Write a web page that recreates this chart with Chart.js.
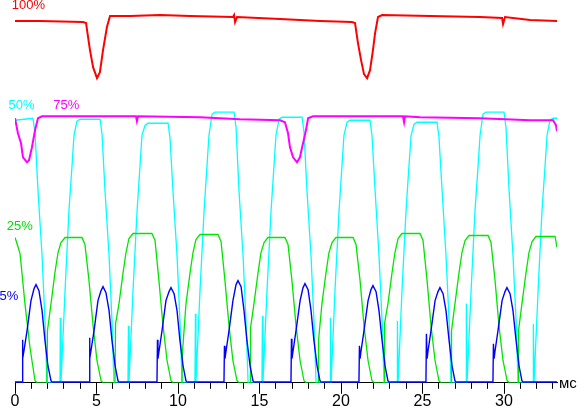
<!DOCTYPE html>
<html>
<head>
<meta charset="utf-8">
<title>Осциллограммы яркости</title>
<script src="https://cdn.jsdelivr.net/npm/chart.js@4.4.1/dist/chart.umd.min.js"></script>
<style>
  html, body { margin: 0; padding: 0; background: #fff; }
  #wrap { position: relative; width: 580px; height: 408px; }
</style>
</head>
<body>
<div id="wrap"><canvas id="chart"></canvas></div>
<script>
// time in ms, level in arbitrary brightness units (0 = black)
const redTime = [0, 1.53, 4.17, 4.36, 4.42, 4.60, 4.79, 5.03, 5.21, 5.40, 5.64, 5.83, 7.06, 8.90, 10.74, 13.37, 13.44, 13.50, 13.62, 16.26,
  18.71, 20.67, 20.86, 21.04, 21.23, 21.41, 21.60, 21.78, 21.96, 22.09, 22.27, 22.52, 25.46, 28.53, 29.88, 29.94, 30.06, 31.60, 33.25];
const redLevel = [361, 361, 360, 359, 352, 332, 315, 304, 310, 332, 355, 366, 366, 367, 366, 365, 367, 360, 365, 363,
  361, 360, 359, 339, 322, 308, 304, 312, 332, 349, 365, 367, 366, 365, 364, 358, 365, 362, 361];

const magentaTime = [0, 0.18, 0.37, 0.49, 0.74, 0.86, 1.04, 1.23, 1.41, 1.66, 7.42, 7.48, 7.55, 11.35, 13.80, 16.26, 16.56, 16.75,
  16.87, 17.06, 17.30, 17.48, 17.67, 17.85, 17.98, 18.28, 22.39, 23.80, 23.87, 23.93, 24.85, 28.53, 31.60, 33.01, 33.19, 33.25];
const magentaLevel = [264, 249, 239, 225, 220, 222, 235, 252, 264, 266, 266, 261, 266, 265, 263, 262, 260, 249,
  235, 225, 220, 225, 239, 252, 264, 266, 266, 266, 260, 266, 265, 264, 262, 262, 257, 251];

const cyanTime = [
  0, 1.10, 1.23, 1.41, 1.66, 1.84, 1.96,
  2.76, 2.78, 2.82, 3.07, 3.31, 3.50, 3.62, 3.80, 3.99, 5.22, 5.34, 5.52, 5.77, 5.95, 6.07,
  6.93, 6.96, 6.99, 7.24, 7.49, 7.67, 7.79, 7.98, 8.16, 9.39, 9.51, 9.69, 9.94, 10.12, 10.25,
  11.04, 11.07, 11.10, 11.35, 11.60, 11.78, 11.90, 12.09, 12.27, 13.44, 13.56, 13.74, 13.99, 14.17, 14.30,
  15.15, 15.18, 15.21, 15.46, 15.71, 15.89, 16.01, 16.20, 16.38, 17.61, 17.73, 17.91, 18.16, 18.34, 18.47,
  19.33, 19.35, 19.39, 19.63, 19.88, 20.06, 20.18, 20.37, 20.55, 21.78, 21.90, 22.09, 22.33, 22.52, 22.64,
  23.44, 23.46, 23.50, 23.74, 23.99, 24.17, 24.30, 24.48, 24.66, 25.89, 26.01, 26.20, 26.44, 26.63, 26.75,
  27.67, 27.69, 27.73, 27.98, 28.22, 28.41, 28.53, 28.71, 28.90, 30.00, 30.12, 30.31, 30.55, 30.74, 30.86,
  31.78, 31.80, 31.84, 32.09, 32.33, 32.52, 32.64, 32.82, 33.01, 33.25];
const cyanLevel = [
  262, 264, 249, 192, 127, 62, 0,
  0, 65, 0, 92, 172, 217, 247, 261, 263, 263, 248, 192, 127, 62, 0,
  0, 57, 0, 92, 172, 217, 247, 257, 259, 259, 244, 192, 127, 62, 0,
  0, 69, 0, 92, 172, 217, 247, 268, 270, 270, 255, 192, 127, 62, 0,
  0, 67, 0, 92, 172, 217, 247, 263, 265, 265, 250, 192, 127, 62, 0,
  0, 65, 0, 92, 172, 217, 247, 260, 262, 262, 247, 192, 127, 62, 0,
  0, 62, 0, 92, 172, 217, 247, 258, 260, 260, 245, 192, 127, 62, 0,
  0, 79, 0, 92, 172, 217, 247, 268, 270, 270, 255, 192, 127, 62, 0,
  0, 59, 0, 92, 172, 217, 247, 262, 264, 264];

const greenTime = [
  0, 0.12, 0.31, 0.61, 0.92, 1.23, 1.35,
  1.96, 1.99, 2.21, 2.45, 2.64, 2.82, 3.07, 4.11, 4.29, 4.54, 4.79, 5.03, 5.28, 5.40,
  6.13, 6.17, 6.38, 6.63, 6.81, 6.99, 7.24, 8.40, 8.59, 8.83, 9.08, 9.33, 9.57, 9.69,
  10.24, 10.28, 10.49, 10.74, 10.92, 11.10, 11.35, 12.45, 12.64, 12.88, 13.13, 13.37, 13.62, 13.74,
  14.42, 14.45, 14.66, 14.91, 15.09, 15.28, 15.52, 16.56, 16.75, 16.99, 17.24, 17.49, 17.73, 17.85,
  18.59, 18.62, 18.83, 19.08, 19.26, 19.45, 19.69, 20.74, 20.92, 21.17, 21.41, 21.66, 21.90, 22.02,
  22.64, 22.67, 22.88, 23.13, 23.31, 23.50, 23.74, 24.85, 25.03, 25.28, 25.52, 25.77, 26.01, 26.14,
  26.75, 26.78, 26.99, 27.24, 27.42, 27.61, 27.85, 29.02, 29.20, 29.45, 29.69, 29.94, 30.19, 30.31,
  30.86, 30.89, 31.10, 31.35, 31.53, 31.72, 31.96, 33.13, 33.25];
const greenLevel = [
  145, 139, 129, 79, 35, 2, 0,
  0, 52, 79, 110, 130, 140, 145, 145, 138, 102, 57, 22, 2, 0,
  0, 59, 79, 110, 130, 144, 149, 149, 142, 102, 57, 22, 2, 0,
  0, 32, 79, 110, 130, 143, 148, 148, 141, 102, 57, 22, 2, 0,
  0, 55, 79, 110, 130, 140, 145, 145, 138, 102, 57, 22, 2, 0,
  0, 42, 79, 110, 130, 140, 145, 145, 138, 102, 57, 22, 2, 0,
  0, 59, 79, 110, 130, 144, 149, 149, 142, 102, 57, 22, 2, 0,
  0, 52, 79, 110, 130, 142, 147, 147, 140, 102, 57, 22, 2, 0,
  0, 52, 79, 110, 130, 141, 146, 146, 135];

const blueTime = [0,
  0.43, 0.45, 0.49, 0.55, 0.74, 0.98, 1.17, 1.29, 1.47, 1.66, 1.84, 2.02, 2.21, 2.33,
  4.54, 4.57, 4.60, 4.66, 4.85, 5.09, 5.28, 5.40, 5.58, 5.77, 5.95, 6.14, 6.32, 6.44,
  8.71, 8.74, 8.77, 8.84, 9.02, 9.26, 9.45, 9.57, 9.76, 9.94, 10.12, 10.31, 10.49, 10.61,
  12.82, 12.85, 12.88, 12.95, 13.13, 13.37, 13.56, 13.68, 13.87, 14.05, 14.23, 14.42, 14.60, 14.72,
  16.93, 16.96, 16.99, 17.06, 17.24, 17.49, 17.67, 17.79, 17.98, 18.16, 18.34, 18.53, 18.71, 18.84,
  21.10, 21.13, 21.17, 21.23, 21.41, 21.66, 21.84, 21.96, 22.15, 22.33, 22.52, 22.70, 22.88, 23.01,
  25.21, 25.24, 25.28, 25.34, 25.52, 25.77, 25.95, 26.07, 26.26, 26.44, 26.63, 26.81, 26.99, 27.12,
  29.32, 29.35, 29.39, 29.45, 29.63, 29.88, 30.06, 30.18, 30.37, 30.55, 30.74, 30.92, 31.10, 31.23,
  33.25];
const blueLevel = [0,
  0, 43, 24, 32, 52, 82, 94, 98, 92, 72, 42, 17, 2, 0,
  0, 45, 24, 32, 52, 82, 92, 96, 90, 72, 42, 17, 2, 0,
  0, 43, 24, 32, 52, 82, 91, 95, 89, 72, 42, 17, 2, 0,
  0, 37, 24, 32, 52, 82, 98, 102, 96, 72, 42, 17, 2, 0,
  0, 44, 24, 32, 52, 82, 95, 99, 93, 72, 42, 17, 2, 0,
  0, 37, 24, 32, 52, 82, 93, 97, 91, 72, 42, 17, 2, 0,
  0, 49, 24, 32, 52, 82, 91, 95, 89, 72, 42, 17, 2, 0,
  0, 39, 24, 32, 52, 82, 91, 95, 89, 72, 42, 17, 2, 0,
  0];

const timeMax = 33.25;
const levelMax = 372;

// brightness setting labels, anchored in chart units (ms, level)
const traceLabels = [
  { text: '100%', color: '#ff0000', t: -0.2, v: 372.5 },
  { text: '50%', color: '#00ffff', t: -0.4, v: 273 },
  { text: '75%', color: '#ff00ff', t: 2.35, v: 273 },
  { text: '25%', color: '#00e000', t: -0.5, v: 152 },
  { text: '5%', color: '#0000ff', t: -0.95, v: 83 }
];

function toPoints(times, levels) {
    return times.map((t, i) => ({ x: t, y: levels[i] }));
}

function alignPx(p) {
    return Math.round(p - 0.5) + 0.5;
}

const scopeExtras = {
    id: 'scopeExtras',
    afterDraw(chart) {
        const { ctx, chartArea, scales: { x, y } } = chart;
        ctx.save();

        // longer marks every 5 ms
        ctx.strokeStyle = '#000';
        ctx.lineWidth = 1;
        x.ticks.forEach(tk => {
            if (Math.abs(tk.value % 5) > 1e-6) return;
            const px = alignPx(x.getPixelForValue(tk.value));
            ctx.beginPath();
            ctx.moveTo(px, chartArea.bottom + 5);
            ctx.lineTo(px, chartArea.bottom + 11);
            ctx.stroke();
        });

        // axis unit
        ctx.fillStyle = '#000';
        ctx.font = '15px "Liberation Sans", Arial, sans-serif';
        ctx.textBaseline = 'middle';
        ctx.textAlign = 'left';
        ctx.fillText('мс', chartArea.right + 2, chartArea.bottom + 1);

        // trace labels
        ctx.font = '13px "Liberation Sans", Arial, sans-serif';
        ctx.textBaseline = 'alphabetic';
        traceLabels.forEach(l => {
            ctx.fillStyle = l.color;
            ctx.fillText(l.text, x.getPixelForValue(l.t), y.getPixelForValue(l.v));
        });
        ctx.restore();
    }
};

function trace(points, color, width, floorWidth) {
    return {
        data: points,
        borderColor: color,
        borderWidth: width,
        pointRadius: 0,
        tension: 0,
        fill: false,
        segment: {
            // the dark level sits on the axis and reads heavier there
            borderWidth: ctx => (floorWidth && ctx.p0.parsed.y === 0 && ctx.p1.parsed.y === 0 ? floorWidth : width)
        }
    };
}

new Chart(document.getElementById('chart'), {
    type: 'line',
    data: {
        datasets: [
            trace(toPoints(blueTime, blueLevel), '#0000ff', 1.4, 3),
            trace(toPoints(redTime, redLevel), '#ff0000', 2),
            trace(toPoints(magentaTime, magentaLevel), '#ff00ff', 2),
            trace(toPoints(greenTime, greenLevel), '#00e600', 1.3),
            trace(toPoints(cyanTime, cyanLevel), '#00ffff', 1.3)
        ]
    },
    options: {
        responsive: true,
        maintainAspectRatio: false,
        animation: false,
        layout: { padding: { left: 15, right: 23, top: 10, bottom: -6 } },
        plugins: {
            legend: { display: false },
            tooltip: { enabled: false }
        },
        scales: {
            x: {
                type: 'linear',
                min: 0,
                max: timeMax,
                grid: { drawOnChartArea: false, drawTicks: true, tickLength: 6, tickColor: '#000' },
                border: { display: true, color: '#000', width: 1 },
                ticks: {
                    stepSize: 1,
                    includeBounds: false,
                    autoSkip: false,
                    maxRotation: 0,
                    padding: 3,
                    color: '#000',
                    font: { family: '"Liberation Sans", Arial, sans-serif', size: 16 },
                    callback: v => (Math.abs(v % 5) < 1e-6 ? String(v) : '')
                }
            },
            y: { type: 'linear', min: 0, max: levelMax, display: false }
        }
    },
    plugins: [scopeExtras]
});
</script>
</body>
</html>
